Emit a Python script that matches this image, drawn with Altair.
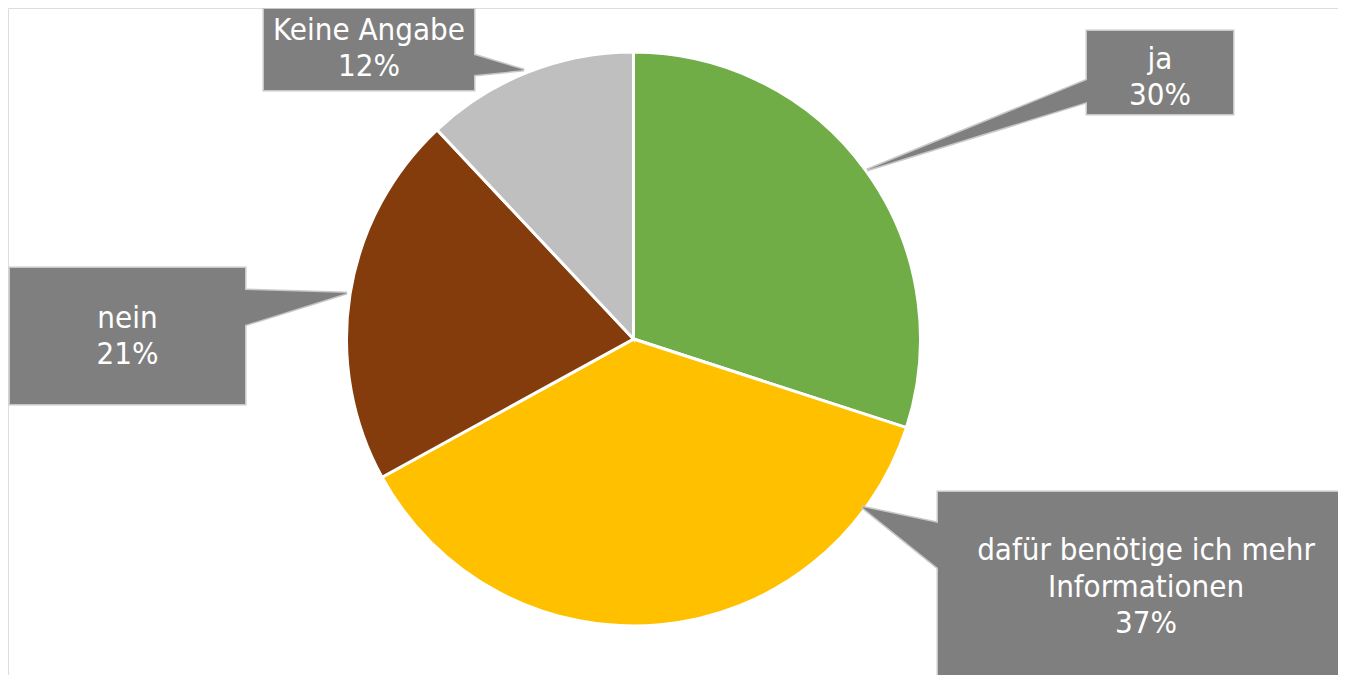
import altair as alt
import pandas as pd

# ---- data ----
categories = ["ja", "dafür benötige ich mehr Informationen", "nein", "Keine Angabe"]
shares = [30, 37, 21, 12]
label_text = ["ja\n30%", "dafür benötige ich mehr\nInformationen\n37%", "nein\n21%", "Keine Angabe\n12%"]
colors = ["#70AD47", "#FFC000", "#843C0C", "#BFBFBF"]

# ---- layout of callouts (pixel coordinates on the page) ----
box_x1 = [1087, 938, 10, 264]
box_x2 = [1233, 1360, 245, 474]
box_y1 = [31, 492, 268, 9]
box_y2 = [114, 690, 404, 90]
text_x = [1160, 1146, 127.5, 369]
text_y = [59.5, 551, 318.5, 30.5]
# pointer: tip point and two base points on the box edge
tip_x = [867, 862, 347, 524]
tip_y = [170, 507, 293, 70]
base_x = [1087, 938, 245, 474]
base_y1 = [80, 523, 290, 55]
base_y2 = [102, 568, 325, 75]

W, H = 1330, 667
xs = alt.Scale(domain=[8, 1338], nice=False, zero=False)
ys = alt.Scale(domain=[675, 8], nice=False, zero=False)

pie_df = pd.DataFrame({"cat": categories, "share": shares, "order": range(4)})
pie = alt.Chart(pie_df).mark_arc(
    outerRadius=287, stroke="white", strokeWidth=3
).encode(
    theta=alt.Theta("share:Q", stack=True),
    color=alt.Color("cat:N", scale=alt.Scale(domain=categories, range=colors), legend=None),
    order=alt.Order("order:Q"),
    x=alt.value(625.5),
    y=alt.value(331),
)

box_df = pd.DataFrame({
    "cat": categories, "x1": box_x1, "x2": box_x2, "y1": box_y1, "y2": box_y2,
    "tx": text_x, "ty": text_y, "label": label_text,
})

rows = []
for i, c in enumerate(categories):
    rows.append({"cat": c, "px": tip_x[i], "py": tip_y[i], "py2": tip_y[i]})
    rows.append({"cat": c, "px": base_x[i], "py": base_y1[i], "py2": base_y2[i]})
ptr_df = pd.DataFrame(rows)

enc_box = dict(
    x=alt.X("x1:Q", scale=xs, axis=None), x2="x2:Q",
    y=alt.Y("y1:Q", scale=ys, axis=None), y2="y2:Q",
)
enc_ptr = dict(
    x=alt.X("px:Q", scale=xs, axis=None),
    y=alt.Y("py:Q", scale=ys, axis=None), y2="py2:Q",
    detail="cat:N",
)

box_stroke = alt.Chart(box_df).mark_rect(
    fill="#7F7F7F", stroke="#C8C8C8", strokeWidth=3, clip=True
).encode(**enc_box)
ptr_stroke = alt.Chart(ptr_df).mark_area(
    fill="#7F7F7F", stroke="#C8C8C8", strokeWidth=3, interpolate="linear"
).encode(**enc_ptr)
box_fill = alt.Chart(box_df).mark_rect(fill="#7F7F7F", clip=True).encode(**enc_box)
ptr_fill = alt.Chart(ptr_df).mark_area(fill="#7F7F7F", interpolate="linear").encode(**enc_ptr)

txt = alt.Chart(box_df).mark_text(
    color="white", font="DejaVu Sans Condensed", fontSize=31, lineBreak="\n",
    lineHeight=36.5, align="center", baseline="middle"
).encode(
    x=alt.X("tx:Q", scale=xs, axis=None),
    y=alt.Y("ty:Q", scale=ys, axis=None),
    text="label:N",
)

chart = alt.layer(pie, ptr_stroke, box_stroke, ptr_fill, box_fill, txt).properties(
    width=W, height=H, padding=0, autosize=alt.AutoSizeParams(type="none")
).configure_view(stroke="transparent", strokeWidth=0).configure(background="white")

chart.save("out.html", embed_options={"renderer": "svg", "actions": False})
